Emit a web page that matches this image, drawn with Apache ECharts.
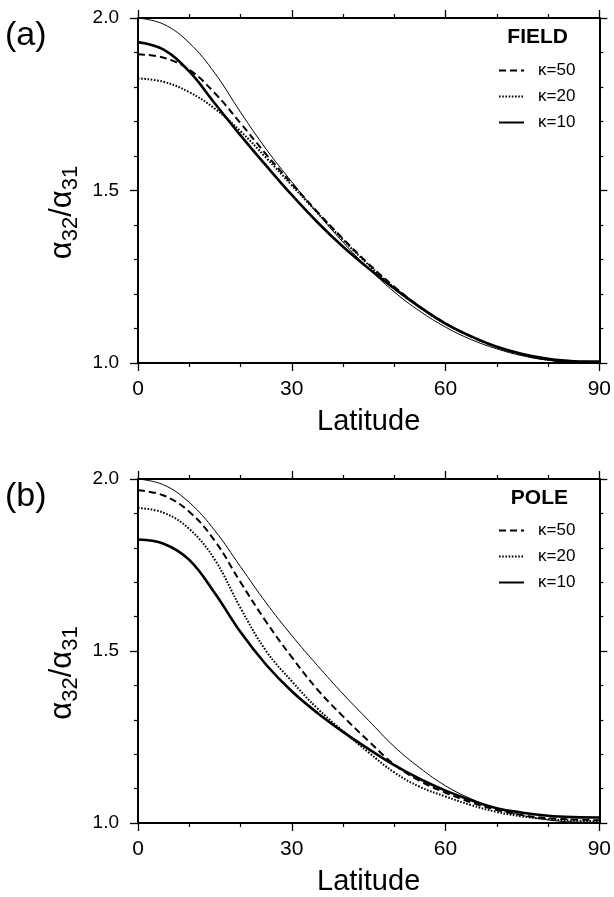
<!DOCTYPE html>
<html>
<head>
<meta charset="utf-8">
<script src="https://cdn.jsdelivr.net/npm/echarts@6/dist/echarts.min.js"></script>
<style>
html, body { margin: 0; padding: 0; background: #fff; }
#main { width: 614px; height: 897px; }
</style>
</head>
<body>
<div id="main"></div>
<script>
// latitude samples (degrees)
var latitude = [0, 5, 10, 15, 20, 25, 30, 35, 40, 45, 50, 55, 60, 65, 70, 75, 80, 85, 90];

// (a) FIELD
var fieldRef = [2.000, 1.982, 1.928, 1.840, 1.727, 1.620, 1.525, 1.435, 1.350, 1.274, 1.206, 1.150, 1.104, 1.068, 1.041, 1.021, 1.008, 1.002, 1.000];
var field50  = [1.895, 1.885, 1.850, 1.782, 1.695, 1.605, 1.520, 1.438, 1.360, 1.287, 1.221, 1.163, 1.115, 1.077, 1.047, 1.025, 1.010, 1.004, 1.003];
var field20  = [1.825, 1.815, 1.785, 1.737, 1.672, 1.595, 1.515, 1.435, 1.357, 1.284, 1.218, 1.161, 1.113, 1.076, 1.046, 1.024, 1.010, 1.004, 1.003];
var field10  = [1.930, 1.908, 1.845, 1.752, 1.660, 1.572, 1.487, 1.408, 1.337, 1.274, 1.216, 1.162, 1.114, 1.077, 1.047, 1.026, 1.012, 1.005, 1.004];

// (b) POLE
var poleRef = [2.000, 1.983, 1.932, 1.850, 1.745, 1.640, 1.545, 1.458, 1.375, 1.298, 1.222, 1.160, 1.108, 1.070, 1.042, 1.022, 1.009, 1.003, 1.002];
var pole50  = [1.967, 1.952, 1.905, 1.820, 1.700, 1.585, 1.482, 1.388, 1.310, 1.238, 1.170, 1.122, 1.088, 1.060, 1.038, 1.023, 1.014, 1.010, 1.008];
var pole20  = [1.916, 1.902, 1.855, 1.765, 1.625, 1.500, 1.412, 1.333, 1.267, 1.205, 1.147, 1.105, 1.077, 1.052, 1.032, 1.019, 1.011, 1.007, 1.005];
var pole10  = [1.824, 1.812, 1.765, 1.668, 1.555, 1.460, 1.383, 1.320, 1.265, 1.215, 1.168, 1.128, 1.094, 1.066, 1.043, 1.030, 1.021, 1.017, 1.016];

var kappaNames = ['κ=50', 'κ=20', 'κ=10'];
var panelLabels = ['(a)', '(b)'];
var panelTitles = ['FIELD', 'POLE'];

var FONT = 'Liberation Sans, Arial, Helvetica, sans-serif';

function pairs(ys) {
  return latitude.map(function (x, i) { return [x, ys[i]]; });
}

function xAx(g, pos) {
  return {
    type: 'value', gridIndex: g, position: pos,
    min: 0, max: 90, interval: 30,
    axisLine: { show: true, onZero: false, lineStyle: { color: '#000', width: 2 } },
    axisTick: { show: true, length: 8, lineStyle: { color: '#000', width: 1.3 } },
    minorTick: { show: true, splitNumber: 3, length: 4, lineStyle: { color: '#000', width: 1.2 } },
    splitLine: { show: false },
    minorSplitLine: { show: false },
    axisLabel: { show: pos === 'bottom', margin: 16, fontSize: 21, color: '#000', fontFamily: FONT },
    name: pos === 'bottom' ? 'Latitude' : '',
    nameLocation: 'middle', nameGap: 44,
    nameTextStyle: { fontSize: 29, color: '#000', fontFamily: FONT }
  };
}

function yAx(g, pos) {
  return {
    type: 'value', gridIndex: g, position: pos,
    min: 1, max: 2, interval: 0.5,
    axisLine: { show: true, onZero: false, lineStyle: { color: '#000', width: 2 } },
    axisTick: { show: true, length: 8, lineStyle: { color: '#000', width: 1.3 } },
    minorTick: { show: true, splitNumber: 5, length: 4, lineStyle: { color: '#000', width: 1.2 } },
    splitLine: { show: false },
    minorSplitLine: { show: false },
    axisLabel: {
      show: pos === 'left', margin: 19, fontSize: 19, color: '#000', fontFamily: FONT,
      formatter: function (v) { return v.toFixed(1); }
    },
    name: pos === 'left' ? 'α{s|32}/α{s|31}' : '',
    nameLocation: 'middle', nameGap: 48, nameRotate: 90,
    nameTextStyle: {
      fontSize: 31, color: '#000', fontFamily: FONT,
      padding: [0, 44, 0, 0],
      rich: { s: { fontSize: 22, fontFamily: FONT, color: '#000', padding: [16, 0, 0, 0] } }
    }
  };
}

function line(name, xi, data, type, width) {
  var dash = type === 'dashed' ? [7, 4] : (type === 'dotted' ? [1.6, 1.6] : 'solid');
  return {
    name: name, type: 'line', xAxisIndex: xi, yAxisIndex: xi,
    data: pairs(data), smooth: 0.4, symbol: 'none', showSymbol: false,
    silent: true, animation: false,
    itemStyle: { color: '#000' },
    lineStyle: { color: '#000', width: width, type: dash }
  };
}

function legendAt(top) {
  return {
    data: kappaNames, orient: 'vertical', left: 498, top: top, padding: 0,
    itemWidth: 25, itemHeight: 14, itemGap: 9, selectedMode: false,
    itemStyle: { color: 'rgba(0,0,0,0)', borderWidth: 0, opacity: 0 },
    textStyle: { fontSize: 17, color: '#000', fontFamily: FONT, padding: [0, 0, 0, 9] }
  };
}

var myChart = echarts.init(document.getElementById('main'));
myChart.setOption({
  animation: false,
  backgroundColor: '#fff',
  title: [
    { text: panelLabels[0], left: 5, top: 19, padding: 0, textStyle: { fontSize: 34, fontWeight: 'normal', color: '#000', fontFamily: FONT } },
    { text: panelLabels[1], left: 5, top: 480, padding: 0, textStyle: { fontSize: 34, fontWeight: 'normal', color: '#000', fontFamily: FONT } },
    { text: panelTitles[0], right: 46, top: 27, padding: 0, textStyle: { fontSize: 21, fontWeight: 'bold', color: '#000', fontFamily: FONT } },
    { text: panelTitles[1], right: 46, top: 488, padding: 0, textStyle: { fontSize: 21, fontWeight: 'bold', color: '#000', fontFamily: FONT } }
  ],
  legend: [legendAt(62), legendAt(522)],
  grid: [
    { left: 138, right: 13, top: 18, height: 345 },
    { left: 138, right: 13, top: 479, height: 345 }
  ],
  xAxis: [xAx(0, 'bottom'), xAx(0, 'top'), xAx(1, 'bottom'), xAx(1, 'top')],
  yAxis: [yAx(0, 'left'), yAx(0, 'right'), yAx(1, 'left'), yAx(1, 'right')],
  series: [
    line('ref', 0, fieldRef, 'solid', 1),
    line(kappaNames[0], 0, field50, 'dashed', 2),
    line(kappaNames[1], 0, field20, 'dotted', 2),
    line(kappaNames[2], 0, field10, 'solid', 2.6),
    line('ref', 2, poleRef, 'solid', 1),
    line(kappaNames[0], 2, pole50, 'dashed', 2),
    line(kappaNames[1], 2, pole20, 'dotted', 2),
    line(kappaNames[2], 2, pole10, 'solid', 2.6)
  ]
});
</script>
</body>
</html>
